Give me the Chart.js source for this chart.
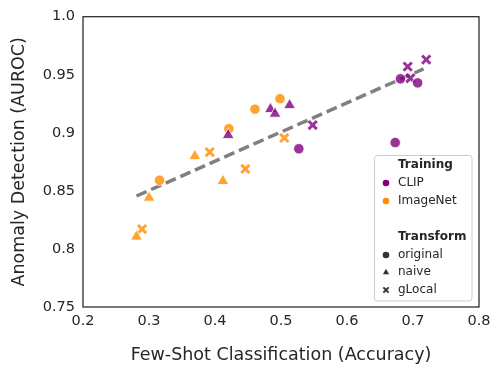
<!DOCTYPE html>
<html>
<head>
<meta charset="utf-8">
<script src="https://cdn.jsdelivr.net/npm/chart.js@4.4.1/dist/chart.umd.min.js"></script>
<style>
  html, body { margin: 0; padding: 0; background: #fff; }
  #wrap { width: 499px; height: 372px; }
</style>
</head>
<body>
<div id="wrap"><canvas id="c" width="499" height="372"></canvas></div>
<script>
// one entry per model: few-shot accuracy, anomaly AUROC, training set, transform
const accuracy = [0.681, 0.707, 0.673, 0.527, 0.420, 0.484, 0.491, 0.513, 0.548, 0.692, 0.696, 0.720,
                  0.4985, 0.4605, 0.421, 0.316, 0.3695, 0.412, 0.300, 0.281, 0.392, 0.446, 0.505, 0.2895];
const auroc = [0.9465, 0.943, 0.8916, 0.8863, 0.898, 0.9204, 0.9164, 0.9238, 0.9067, 0.957, 0.947, 0.963,
               0.9294, 0.9204, 0.9036, 0.8592, 0.880, 0.8584, 0.8441, 0.8106, 0.8834, 0.8689, 0.8956, 0.8171];
const training = ['CLIP','CLIP','CLIP','CLIP','CLIP','CLIP','CLIP','CLIP','CLIP','CLIP','CLIP','CLIP',
                  'ImageNet','ImageNet','ImageNet','ImageNet','ImageNet','ImageNet','ImageNet','ImageNet','ImageNet','ImageNet','ImageNet','ImageNet'];
const transform = ['original','original','original','original','naive','naive','naive','naive','gLocal','gLocal','gLocal','gLocal',
                   'original','original','original','original','naive','naive','naive','naive','gLocal','gLocal','gLocal','gLocal'];

const trainings = ['CLIP', 'ImageNet'];
const transforms = ['original', 'naive', 'gLocal'];

// fitted trend line end points
const trendX = [0.281, 0.716];
const trendY = [0.8456, 0.955];

const xTicks = [0.2, 0.3, 0.4, 0.5, 0.6, 0.7, 0.8];
const xTickLabels = ['0.2', '0.3', '0.4', '0.5', '0.6', '0.7', '0.8'];
const yTicks = [0.75, 0.8, 0.85, 0.9, 0.95, 1.0];
const yTickLabels = ['0.75', '0.8', '0.85', '0.9', '0.95', '1.0'];

const ink = '#262626';
const fillColors = { CLIP: 'rgba(128,0,128,0.8)', ImageNet: 'rgba(255,140,0,0.8)' };
const solidColors = { CLIP: '#800080', ImageNet: '#ff8c00' };
const styles = { original: 'circle', naive: 'triangle', gLocal: 'crossRot' };
const sizes = { original: 5.2, naive: 6.8, gLocal: 5.8 };
const FONT = 'DejaVu Sans';

const datasets = [];

// first dataset ends up on top in Chart.js, so CLIP is drawn over ImageNet
trainings.forEach(tr => {
  transforms.forEach(tf => {
    const pts = [];
    accuracy.forEach((a, i) => {
      if (training[i] === tr && transform[i] === tf) pts.push({ x: a, y: auroc[i] });
    });
    const cross = tf === 'gLocal';
    datasets.push({
      type: 'scatter',
      data: pts,
      pointStyle: styles[tf],
      pointRadius: sizes[tf],
      pointBackgroundColor: fillColors[tr],
      pointBorderColor: cross ? fillColors[tr] : '#ffffff',
      pointBorderWidth: cross ? 3 : 0.8
    });
  });
});

// trend line sits under the markers
datasets.push({
  type: 'line',
  data: trendX.map((x, i) => ({ x: x, y: trendY[i] })),
  borderColor: '#808080',
  borderWidth: 3.5,
  borderDash: [11, 5],
  pointRadius: 0,
  fill: false
});

function drawMarker(ctx, style, x, y, r, color) {
  ctx.save();
  ctx.fillStyle = color;
  ctx.strokeStyle = color;
  ctx.beginPath();
  if (style === 'circle') {
    ctx.arc(x, y, r, 0, Math.PI * 2);
    ctx.fill();
  } else if (style === 'triangle') {
    ctx.moveTo(x, y - r);
    ctx.lineTo(x + r * 0.95, y + r * 0.7);
    ctx.lineTo(x - r * 0.95, y + r * 0.7);
    ctx.closePath();
    ctx.fill();
  } else {
    ctx.lineWidth = 2;
    ctx.moveTo(x - r * 0.8, y - r * 0.8); ctx.lineTo(x + r * 0.8, y + r * 0.8);
    ctx.moveTo(x + r * 0.8, y - r * 0.8); ctx.lineTo(x - r * 0.8, y + r * 0.8);
    ctx.stroke();
  }
  ctx.restore();
}

const framePlugin = {
  id: 'frame',
  afterDraw(chart) {
    const ctx = chart.ctx;
    const a = chart.chartArea;
    ctx.save();
    ctx.strokeStyle = ink;
    ctx.lineWidth = 1.25;
    ctx.strokeRect(a.left, a.top, a.right - a.left, a.bottom - a.top);

    // legend box
    const bx = 374.5, by = 155.5, bw = 97.5, bh = 145.5;
    ctx.fillStyle = 'rgba(255,255,255,0.8)';
    ctx.strokeStyle = '#cccccc';
    ctx.lineWidth = 1;
    ctx.beginPath();
    ctx.roundRect(bx, by, bw, bh, 3);
    ctx.fill();
    ctx.stroke();

    const tx = 398, mx = 386;
    const rows = [
      { text: 'Training', y: 165, bold: true },
      { text: 'CLIP', y: 183, marker: 'circle', color: solidColors.CLIP },
      { text: 'ImageNet', y: 201, marker: 'circle', color: solidColors.ImageNet },
      { text: 'Transform', y: 237, bold: true },
      { text: 'original', y: 255, marker: 'circle', color: '#333333' },
      { text: 'naive', y: 272, marker: 'triangle', color: '#333333' },
      { text: 'gLocal', y: 290, marker: 'cross', color: '#333333' }
    ];
    ctx.textBaseline = 'middle';
    ctx.textAlign = 'left';
    rows.forEach(r => {
      ctx.fillStyle = ink;
      ctx.font = (r.bold ? 'bold ' : '') + '12px "' + FONT + '"';
      ctx.fillText(r.text, tx, r.y);
      if (r.marker) drawMarker(ctx, r.marker, mx, r.y, 3.3, r.color);
    });
    ctx.restore();
  }
};

new Chart(document.getElementById('c'), {
  data: { datasets: datasets },
  options: {
    responsive: false,
    devicePixelRatio: 1,
    animation: false,
    layout: { padding: { top: 14, right: 20, left: 0, bottom: 0 } },
    plugins: { legend: { display: false }, tooltip: { enabled: false } },
    scales: {
      x: {
        type: 'linear',
        min: 0.2, max: 0.8,
        afterBuildTicks: s => { s.ticks = xTicks.map(v => ({ value: v })); },
        afterFit: s => { s.height = 65; },
        grid: { display: false, drawTicks: false },
        border: { display: false },
        ticks: {
          padding: 6,
          color: ink,
          font: { family: FONT, size: 14.5 },
          maxRotation: 0,
          callback: v => xTickLabels[xTicks.findIndex(t => Math.abs(t - v) < 1e-6)]
        },
        title: {
          display: true,
          text: 'Few-Shot Classification (Accuracy)',
          color: ink,
          font: { family: FONT, size: 17.5 },
          padding: { top: 0, bottom: 6 }
        }
      },
      y: {
        type: 'linear',
        min: 0.75, max: 1.0,
        afterBuildTicks: s => { s.ticks = yTicks.map(v => ({ value: v })); },
        afterFit: s => { s.width = 83; },
        grid: { display: false, drawTicks: false },
        border: { display: false },
        ticks: {
          padding: 8,
          color: ink,
          font: { family: FONT, size: 14.5 },
          callback: v => yTickLabels[yTicks.findIndex(t => Math.abs(t - v) < 1e-6)]
        },
        title: {
          display: true,
          text: 'Anomaly Detection (AUROC)',
          color: ink,
          font: { family: FONT, size: 17.5 },
          padding: { top: 9, bottom: 0 }
        }
      }
    }
  },
  plugins: [framePlugin]
});
</script>
</body>
</html>
